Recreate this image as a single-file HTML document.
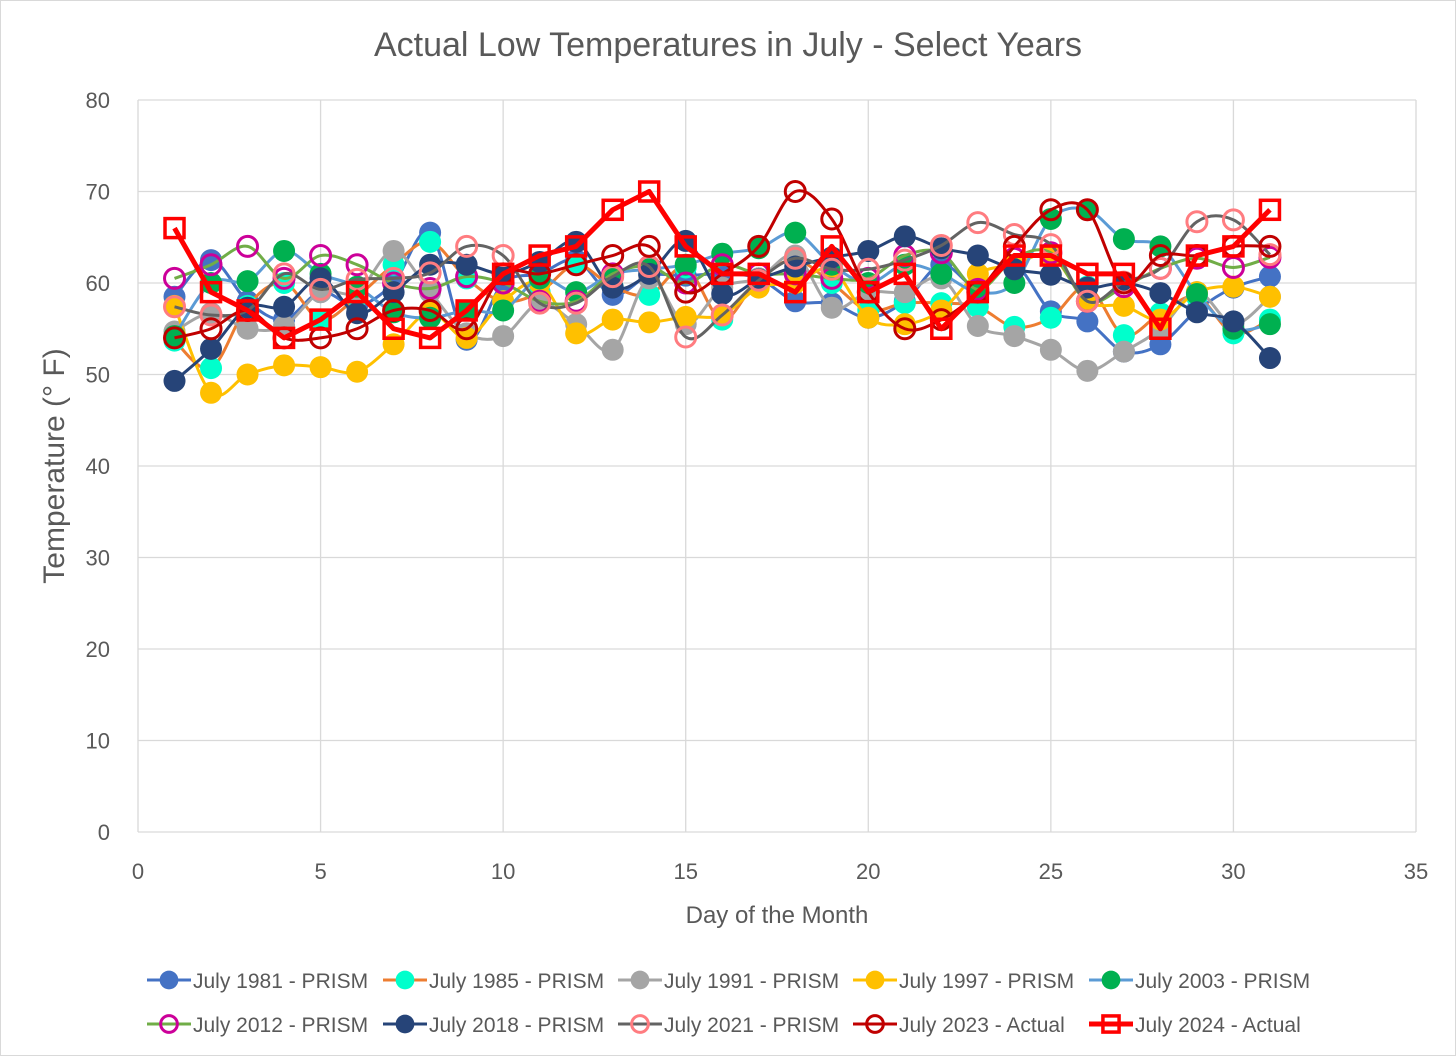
<!DOCTYPE html>
<html><head><meta charset="utf-8"><style>
html,body{margin:0;padding:0;background:#fff}
svg{display:block;font-family:"Liberation Sans","DejaVu Sans",sans-serif}
</style></head><body>
<svg id="chart" width="1456" height="1056" viewBox="0 0 1456 1056">
<rect x="0.5" y="0.5" width="1455" height="1055" fill="#fff" stroke="#d9d9d9"/>
<text x="728" y="56" text-anchor="middle" font-size="34" fill="#595959">Actual Low Temperatures in July - Select Years</text>
<g id="grid"></g>
<g id="axes"></g>
<g id="series"></g>
<g id="legend"></g>
<text x="777" y="923" text-anchor="middle" font-size="24" fill="#595959">Day of the Month</text>
<text transform="translate(64,466) rotate(-90)" text-anchor="middle" font-size="30" fill="#595959">Temperature (° F)</text>
</svg>
<script>
const days = [1,2,3,4,5,6,7,8,9,10,11,12,13,14,15,16,17,18,19,20,21,22,23,24,25,26,27,28,29,30,31];
const xTicks = [0,5,10,15,20,25,30,35];
const yTicks = [0,10,20,30,40,50,60,70,80];
const seriesNames = ["July 1981 - PRISM","July 1985 - PRISM","July 1991 - PRISM","July 1997 - PRISM","July 2003 - PRISM","July 2012 - PRISM","July 2018 - PRISM","July 2021 - PRISM","July 2023 - Actual","July 2024 - Actual"];
const v1981 = [58.5,62.5,58,56,59,57.5,60,65.5,53.8,60,61,62.5,58.7,60.8,60.8,61,60.5,58,57.8,56.2,58,62,59.5,62,56.9,55.8,52.5,53.3,57,59.5,60.7];
const v1985 = [53.7,50.7,57.5,60,56,58.5,62,64.5,60.5,58,59,62,59.6,58.7,61.7,56,60.5,62.5,60,57,57.8,57.8,57.4,55.2,56.2,59.6,54.3,56.7,58.5,54.5,56];
const v1991 = [54.7,56.7,55,55.3,59,59,63.5,59,54.5,54.2,57.8,55.5,52.7,60.5,55.5,59.5,60.5,63,57.3,59,59,60.5,55.3,54.2,52.7,50.4,52.5,55,59,55.5,58.5];
const v1997 = [57.5,48,50,51,50.8,50.3,53.3,56.8,54,58,60,54.5,56,55.7,56.3,56.5,59.5,60,61.5,56.2,55.5,57,61,62,63,58,57.5,56,59,59.6,58.5];
const v2003 = [54.2,60,60.2,63.5,61,59.6,56.8,56.2,57,57,60.5,59,61,61.5,62,63.2,63.8,65.5,62,60,62,61,59,60,67,68,64.8,64,58.8,55,55.5];
const v2012 = [60.5,62,64,60.5,63,62,60,59.4,60.7,60,58,58,61,61.8,60,62,61,61,60.5,60.5,63,63.3,59.3,62.7,63.3,58,59.6,61.6,62.7,61.7,62.8];
const v2018 = [49.3,52.8,57.3,57.4,60.5,56.7,59,62,62,61,62.3,64.5,59.5,61,64.6,58.8,60.4,61.8,62.8,63.5,65.1,63.8,63,61.5,60.9,59.5,60,58.9,56.8,55.8,51.8];
const v2021 = [57.4,56.5,57,61,59.3,60.4,60.5,61.1,64,63,57.8,57.8,60.7,61.8,54.1,56.5,60.3,62.7,61.5,61.5,62.5,64.1,66.6,65.3,64.2,58,60.1,61.6,66.7,66.9,63.1];
const v2023 = [54,55,57,54,54,55,57,57,55,61,61,62,63,64,59,61,64,70,67,59,55,56,59,64,68,68,60,63,63,64,64];
const v2024 = [66,59,57,54,56,59,55,54,57,61,63,64,68,70,64,61,61,59,64,59,61,55,59,63,63,61,61,55,63,64,68];

const NS="http://www.w3.org/2000/svg";
const X0=138,X1=1416,Y0=832,Y1=100;
const xs=v=>X0+(v-0)/(35-0)*(X1-X0);
const ys=v=>Y0-(v-0)/(80-0)*(Y0-Y1);
function mk(tag,attrs,parent){const e=document.createElementNS(NS,tag);for(const k in attrs)e.setAttribute(k,attrs[k]);parent.appendChild(e);return e;}
const grid=document.getElementById('grid'),axes=document.getElementById('axes'),ser=document.getElementById('series'),leg=document.getElementById('legend');
yTicks.forEach(t=>{
  const l=mk('line',{x1:X0,x2:X1,y1:ys(t),y2:ys(t),stroke:'#d9d9d9','stroke-width':1.3},grid);
  
  
  const tx=mk('text',{x:X0-28,y:ys(t)+8,'text-anchor':'end','font-size':22,fill:'#595959'},axes);
  tx.textContent=t;
  
  
});
xTicks.forEach(t=>{
  const l=mk('line',{x1:xs(t),x2:xs(t),y1:Y1,y2:Y0,stroke:'#d9d9d9','stroke-width':1.3},grid);
  
  
  const tx=mk('text',{x:xs(t),y:Y0+47,'text-anchor':'middle','font-size':22,fill:'#595959'},axes);
  tx.textContent=t;
  
  
});
const styles=[
 {line:'#4472C4',w:3,m:'dot',fill:'#4472C4'},
 {line:'#ED7D31',w:3,m:'dot',fill:'#00FFCC'},
 {line:'#A5A5A5',w:3,m:'dot',fill:'#A5A5A5'},
 {line:'#FFC000',w:3,m:'dot',fill:'#FFC000'},
 {line:'#5B9BD5',w:3,m:'dot',fill:'#00B050'},
 {line:'#70AD47',w:3,m:'ring',fill:'#CC0099'},
 {line:'#264478',w:3,m:'dot',fill:'#264478'},
 {line:'#636363',w:3,m:'ring',fill:'#FF7C80'},
 {line:'#C00000',w:3,m:'ring',fill:'#C00000'},
 {line:'#FF0000',w:5,m:'square',fill:'#FF0000'}
];
const allVals=[v1981,v1985,v1991,v1997,v2003,v2012,v2018,v2021,v2023,v2024];
function smooth(pts,smoothIt){
  if(!smoothIt) return 'M'+pts.map(p=>p.join(',')).join('L');
  let d='M'+pts[0][0]+','+pts[0][1];
  for(let i=0;i<pts.length-1;i++){
    const p0=pts[i-1]||pts[i],p1=pts[i],p2=pts[i+1],p3=pts[i+2]||p2,t=1/6;
    d+='C'+(p1[0]+(p2[0]-p0[0])*t)+','+(p1[1]+(p2[1]-p0[1])*t)+' '+(p2[0]-(p3[0]-p1[0])*t)+','+(p2[1]-(p3[1]-p1[1])*t)+' '+p2[0]+','+p2[1];
  }
  return d;
}
function marker(s,x,y,parent,scale){
  const r=11*scale;
  let e;
  if(s.m==='dot') e=mk('circle',{cx:x,cy:y,r:r,fill:s.fill},parent);
  else if(s.m==='ring') e=mk('circle',{cx:x,cy:y,r:r-1,fill:'none',stroke:s.fill,'stroke-width':3},parent);
  else e=mk('rect',{x:x-9.5*scale,y:y-9.5*scale,width:19*scale,height:19*scale,fill:'none',stroke:s.fill,'stroke-width':3.5},parent);
  return e;
}
allVals.forEach((vals,si)=>{
  const s=styles[si];
  const g=mk('g',{},ser);
  
  
  const pts=days.map((d,i)=>[xs(d),ys(vals[i])]);
  const p=mk('path',{d:smooth(pts,si!==9),fill:'none',stroke:s.line,'stroke-width':s.w,'stroke-linejoin':'round'},g);
  
  
  pts.forEach(pt=>{
    const m=marker(s,pt[0],pt[1],g,1);
    
    
  });
});
const legX=[147,383,618,853,1089];
seriesNames.forEach((n,i)=>{
  const s=styles[i];
  const row=Math.floor(i/5),col=i%5;
  const x=legX[col],y=980+row*44;
  const g=mk('g',{},leg);
  
  
  mk('line',{x1:x,x2:x+44,y1:y,y2:y,stroke:s.line,'stroke-width':s.w},g);
  marker(s,x+22,y,g,0.85);
  const t=mk('text',{x:x+46,y:y+8,'font-size':21,fill:'#595959'},g);
  t.textContent=n;
});
</script>
</body></html>
